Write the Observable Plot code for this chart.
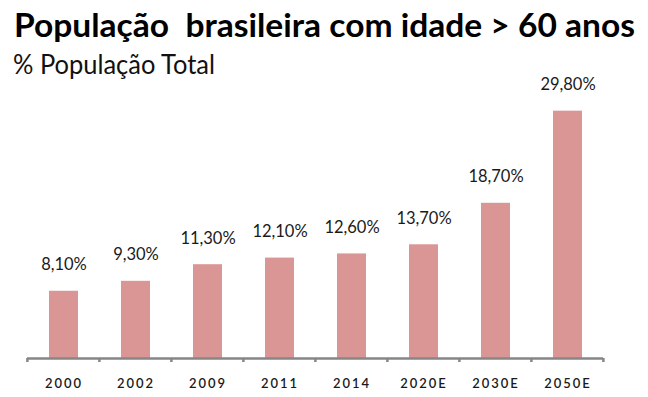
<!DOCTYPE html>
<html>
<head>
<meta charset="utf-8">
<script src="https://cdn.jsdelivr.net/npm/d3@7"></script>
<script src="https://cdn.jsdelivr.net/npm/@observablehq/plot@0.6"></script>
<style>
  html, body { margin: 0; padding: 0; background: #fff; width: 648px; height: 397px; overflow: hidden; }
  #title { font-family: Lato, sans-serif; font-weight: 700; font-size: 33px; line-height: 44px; height: 42px; padding-top: 2px; padding-left: 14px; color: #000; white-space: pre; overflow: visible; }
  #subtitle { font-family: Lato, sans-serif; font-weight: 400; font-size: 26px; line-height: 36px; height: 34px; padding-top: 2px; padding-left: 13px; color: #111; white-space: pre; overflow: visible; }
  #title span, #subtitle span { display: inline-block; transform-origin: left center; }
</style>
</head>
<body>
<div id="title"><span>População  brasileira com idade &gt; 60 anos</span></div>
<div id="subtitle"><span>% População Total</span></div>
<div id="chart"></div>
<script>
const categories = ["2000", "2002", "2009", "2011", "2014", "2020E", "2030E", "2050E"];
const values = [8.1, 9.3, 11.3, 12.1, 12.6, 13.7, 18.7, 29.8];
const valueLabels = ["8,10%", "9,30%", "11,30%", "12,10%", "12,60%", "13,70%", "18,70%", "29,80%"];

const data = categories.map((c, i) => ({year: c, value: values[i], label: valueLabels[i]}));

// fit title widths
function fit(sel, w) {
  const s = document.querySelector(sel);
  const r = s.getBoundingClientRect().width;
  s.style.transform = `scaleX(${w / r})`;
}
fit("#title span", 621);
fit("#subtitle span", 202);

function boundaryTicks(index, scales, values, dims) {
  const x = scales.x;
  const step = x(categories[1]) - x(categories[0]);
  const bw = step * 0.4;
  const y0 = scales.y(0);
  const g = d3.create("svg:g");
  const xs = categories.map(c => x(c) - (step - bw) / 2);
  xs.push(x(categories[categories.length - 1]) + bw + (step - bw) / 2);
  for (const px of xs) {
    g.append("line").attr("x1", px).attr("x2", px).attr("y1", y0).attr("y2", y0 + 4)
      .attr("stroke", "#868686").attr("stroke-width", 2.5);
  }
  return g.node();
}

const plot = Plot.plot({
  width: 648,
  height: 317,
  marginTop: 29,
  marginBottom: 39,
  marginLeft: 27,
  marginRight: 45,
  x: {domain: categories, paddingInner: 0.6, paddingOuter: 0.3, label: null},
  y: {domain: [0, 30], axis: null},
  style: {fontFamily: "Lato, sans-serif", background: "#fff", overflow: "visible"},
  marks: [
    Plot.barY(data, {x: "year", y: "value", fill: "#d99694"}),
    Plot.ruleY([0], {stroke: "#868686", strokeWidth: 2.5}),
    boundaryTicks,
    Plot.text(data, {x: "year", y: "value", text: "label", dy: -21, lineAnchor: "bottom", fontSize: 16.5, fill: "#1a1a1a", fontFamily: "Lato, sans-serif"}),
    Plot.axisX({tickSize: 0, tickPadding: 20, fontSize: 13, fontWeight: 600, fill: "#1a1a1a", label: null})
  ]
});
document.getElementById("chart").appendChild(plot);
plot.querySelectorAll('[aria-label="x-axis tick label"] text').forEach(t => t.setAttribute("letter-spacing", "2"));
</script>
</body>
</html>
